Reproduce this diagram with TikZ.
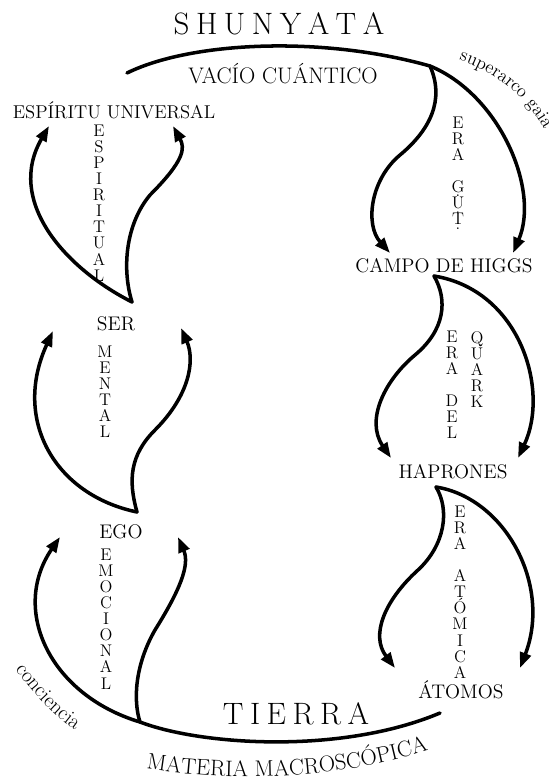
\documentclass[tikz,border=0pt]{standalone}
\usepackage{fontspec}
\usetikzlibrary{arrows.meta, decorations.text}

% dot under a letter of G.U.T.
\newcommand{\gutdot}[1]{\ooalign{#1\cr\hidewidth\raisebox{-2.9pt}{.}\hidewidth\cr}}
% wide letter spacing for the two big words
\newcommand{\trk}{\kern0.21em}

\begin{document}
\begin{tikzpicture}[
  x=0.025cm, y=-0.025cm,
  >={Triangle[length=11pt, width=8pt]},
  flow/.style={line width=2.5pt, line cap=round},
  arr/.style={flow, ->},
  lbl/.style={font=\fontsize{14}{16}\selectfont, inner sep=0pt, anchor=base},
  big/.style={font=\fontsize{22}{26}\selectfont, inner sep=0pt, anchor=base},
  vtxt/.style={font=\fontsize{12}{11.4}\selectfont, align=center,
               inner sep=0pt, anchor=north},
  arctxt/.style={decorate, decoration={text along path, text align=center, text={#1}}},
]
\useasboundingbox (0,0) rectangle (556,782);

% --- labels ---
\node[big] (shunyata) at (279,35) {S\trk H\trk U\trk N\trk Y\trk A\trk T\trk A};
\node[lbl, font=\fontsize{16}{18}\selectfont] (vacio) at (283,83) {VACÍO CUÁNTICO};
\node[lbl, font=\fontsize{13.2}{15}\selectfont] (espiritu) at (114,118) {ESPÍRITU UNIVERSAL};
\node[lbl] (ser) at (116,330) {SER};
\node[lbl] (ego) at (121,538) {EGO};
\node[big] (tierra) at (296,724) {T\trk I\trk E\trk R\trk R\trk A};
\node[lbl] (higgs) at (444,272) {CAMPO DE HIGGS};
\node[lbl] (haprones) at (453,478) {HAPRONES};
\node[lbl] (atomos) at (461,698) {ÁTOMOS};

% --- vertical words ---
\node[vtxt] (espiritual) at (99,125) {E\\S\\P\\I\\R\\I\\T\\U\\A\\L};
\node[vtxt] (mental) at (105,346) {M\\E\\N\\T\\A\\L};
\node[vtxt] (emocional) at (106,549) {E\\M\\O\\C\\I\\O\\N\\A\\L};
\node[vtxt] (eragut) at (458,117) {E\\R\\A\\[11.4pt]\gutdot{G}\\\gutdot{U}\\\gutdot{T}};
\node[vtxt] (eradel) at (452,331) {E\\R\\A\\[11.4pt]D\\E\\L};
\node[vtxt] (quark) at (477,331) {Q\\U\\A\\R\\K};
\node[vtxt] (eraatom) at (460,506) {E\\R\\A\\[11.4pt]A\\T\\Ó\\M\\I\\C\\A};

% --- end points of the arcs ---
\coordinate (toparc) at (127,73);
\coordinate (vacuum) at (430,66);
\coordinate (gutL) at (390,253);
\coordinate (gutR) at (513,253);
\coordinate (higgscusp) at (434,276);
\coordinate (quarkL) at (391,458);
\coordinate (quarkR) at (518,458);
\coordinate (hapcusp) at (436,487);
\coordinate (atomL) at (395,668);
\coordinate (atomR) at (520,668);
\coordinate (earth) at (140,722);
\coordinate (arcend) at (440,713);
\coordinate (egoL) at (60,537);
\coordinate (egoR) at (178,537);
\coordinate (egocusp) at (137,512);
\coordinate (serL) at (53,331);
\coordinate (serR) at (181,328);
\coordinate (sercusp) at (132,302);
\coordinate (espL) at (49,126);
\coordinate (espR) at (173,126);

% --- right side, going down ---
\draw[flow] (toparc) .. controls (190,42) and (320,35) .. (vacuum);
\draw[arr] (vacuum) .. controls (500,95) and (540,190) .. (gutR);
\draw[arr] (vacuum) .. controls (445,100) and (430,130) .. (400,155)
  .. controls (370,180) and (365,225) .. (gutL);
\draw[arr] (higgscusp) .. controls (520,290) and (550,390) .. (quarkR);
\draw[arr] (higgscusp) .. controls (448,300) and (445,330) .. (415,355)
  .. controls (385,380) and (365,420) .. (quarkL);
\draw[arr] (hapcusp) .. controls (505,498) and (552,585) .. (atomR);
\draw[arr] (hapcusp) .. controls (450,510) and (445,545) .. (418,570)
  .. controls (385,600) and (370,635) .. (atomL);

% --- left side, going up ---
\draw[flow] (earth) .. controls (200,745) and (340,755) .. (arcend);
\draw[arr] (earth) .. controls (50,695) and (10,610) .. (egoL);
\draw[arr] (earth) .. controls (133,700) and (135,665) .. (155,630)
  .. controls (180,590) and (190,565) .. (egoR);
\draw[arr] (egocusp) .. controls (55,495) and (12,420) .. (serL);
\draw[arr] (egocusp) .. controls (128,480) and (130,455) .. (155,430)
  .. controls (190,395) and (195,360) .. (serR);
\draw[arr] (sercusp) .. controls (63,267) and (6,200) .. (espL);
\draw[arr] (sercusp) .. controls (122,270) and (125,225) .. (150,195)
  .. controls (185,160) and (185,148) .. (espR);

% --- curved words ---
\path[arctxt={|\fontsize{13}{15}\selectfont|superarco gaia}]
  (446,56) .. controls (492,68) and (530,96) .. (550,142);
\path[arctxt={|\fontsize{15}{17}\selectfont|conciencia}]
  (2,650) .. controls (25,685) and (55,722) .. (95,742);
\path[arctxt={|\fontsize{16}{18}\selectfont|MATERIA MACROSCÓPICA}]
  (126,765) .. controls (220,784) and (345,781) .. (448,744);

\end{tikzpicture}
\end{document}
